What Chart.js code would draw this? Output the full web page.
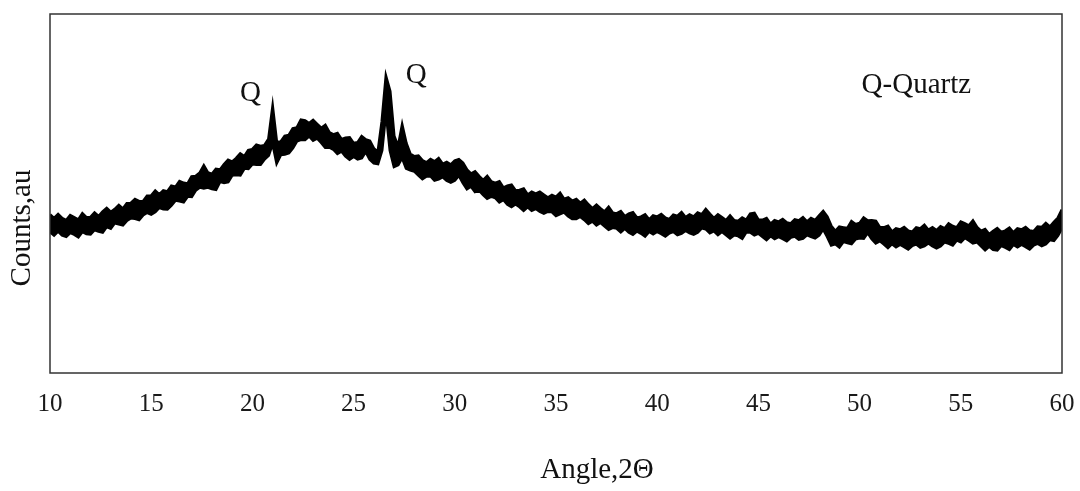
<!DOCTYPE html>
<html>
<head>
<meta charset="utf-8">
<script src="https://cdn.jsdelivr.net/npm/chart.js@4.4.1/dist/chart.umd.min.js"></script>
<style>
  html, body { margin: 0; padding: 0; background: #fff; }
  #wrap { width: 1080px; height: 491px; }
</style>
</head>
<body>
<div id="wrap"><canvas id="chart" width="1080" height="491"></canvas></div>
<script>
// scan grid: first angle and step between readings (2 theta, degrees)
const startAngle = 10
const stepAngle = 0.2

// the trace is a thick noisy band, so its top and bottom edge are read off
// the picture separately, one row per 2 degrees
const countsTop = [
  44.1, 43.1, 44.2, 43.1, 42.5, 43.9, 43.3, 42.7, 44.4, 43.3,   // 10
  43.4, 44.6, 43.6, 44.9, 45.9, 44.8, 45.6, 46.7, 45.7, 47.2,   // 12
  47.3, 48.4, 47.8, 47.8, 49.3, 49.4, 50.7, 49.7, 50.8, 50.5,   // 14
  52.1, 51.8, 53.4, 52.9, 52.7, 54.7, 54.8, 55.7, 57.7, 55.8,   // 16
  55.4, 56.8, 56.6, 58.1, 59.3, 58.8, 59.8, 61.1, 60.3, 62.0,   // 18
  62.3, 63.5, 63.2, 63.4, 65.2, 74.0, 64.3, 64.4, 66.0, 66.2,   // 20
  68.1, 68.3, 70.5, 70.3, 69.5, 70.4, 69.3, 68.2, 69.0, 67.0,   // 22
  66.4, 66.8, 65.1, 65.5, 65.6, 64.0, 64.2, 65.9, 65.0, 64.6,   // 24
  62.5, 61.5, 70.0, 82.5, 78.5, 66.0, 63.0, 69.0, 64.0, 61.0,   // 26
  60.3, 60.5, 59.2, 58.6, 59.5, 58.9, 59.8, 58.2, 58.7, 58.0,   // 28
  59.1, 59.5, 58.5, 56.6, 55.5, 56.1, 54.8, 53.7, 54.8, 53.3,   // 30
  52.9, 53.3, 51.6, 52.1, 52.4, 50.8, 50.9, 51.3, 49.6, 50.4,   // 32
  49.9, 50.4, 49.6, 48.8, 49.5, 49.0, 50.1, 48.4, 48.8, 47.9,   // 34
  48.4, 47.3, 48.2, 46.9, 45.8, 46.8, 45.8, 44.9, 46.2, 44.6,   // 36
  44.4, 45.0, 43.6, 44.3, 44.7, 43.2, 43.5, 44.1, 42.7, 43.8,   // 38
  43.5, 44.2, 43.2, 42.8, 44.0, 43.7, 44.7, 43.3, 44.1, 43.5,   // 40
  44.6, 44.1, 45.6, 44.3, 43.1, 44.1, 43.3, 42.5, 43.8, 42.5,   // 42
  42.3, 43.2, 42.6, 44.3, 44.5, 42.6, 42.6, 43.1, 41.5, 42.5,   // 44
  42.1, 42.8, 41.9, 41.6, 42.7, 42.4, 43.3, 42.1, 43.1, 42.5,   // 46
  43.8, 45.0, 43.5, 40.9, 39.5, 40.7, 40.5, 40.3, 42.2, 41.4,   // 48
  41.7, 43.2, 42.4, 42.5, 42.3, 40.5, 40.5, 40.9, 39.3, 40.2,   // 50
  39.9, 40.6, 39.6, 39.3, 40.5, 40.2, 41.2, 39.8, 40.5, 39.7,   // 52
  40.8, 40.2, 41.6, 40.9, 40.5, 42.1, 41.6, 41.0, 42.4, 40.6,   // 54
  39.5, 40.0, 38.6, 39.5, 40.3, 39.2, 39.6, 40.4, 39.1, 40.2,   // 56
  39.9, 40.6, 39.6, 39.4, 40.7, 40.6, 41.7, 40.7, 42.0, 43.2,   // 58
  45.5                                                          // 60
]
const countsBottom = [
  39.3, 38.4, 39.5, 38.4, 38.0, 39.1, 38.6, 37.9, 39.4, 38.8,   // 10
  38.7, 39.9, 39.5, 39.2, 40.8, 40.3, 41.8, 41.5, 41.2, 42.5,   // 12
  43.2, 43.0, 42.7, 44.0, 44.7, 44.2, 44.9, 46.1, 45.7, 45.6,   // 14
  46.7, 48.1, 47.9, 47.6, 49.2, 49.1, 50.9, 51.7, 51.5, 51.7,   // 16
  51.3, 51.1, 53.3, 53.0, 53.2, 55.1, 55.2, 55.1, 57.0, 56.9,   // 18
  58.2, 58.1, 58.1, 59.6, 60.6, 64.0, 58.5, 60.8, 60.9, 61.3,   // 20
  62.7, 64.6, 65.0, 65.0, 66.0, 64.8, 65.4, 64.2, 62.8, 62.9,   // 22
  62.3, 61.1, 61.8, 60.4, 59.5, 60.3, 59.6, 59.9, 61.7, 59.5,   // 24
  58.5, 58.3, 62.0, 73.0, 62.0, 57.5, 58.0, 60.0, 57.0, 56.5,   // 26
  56.2, 55.1, 54.1, 54.8, 54.9, 53.7, 54.0, 54.6, 53.6, 53.1,   // 28
  53.7, 55.1, 53.0, 51.3, 52.0, 50.5, 50.9, 49.7, 48.6, 49.2,   // 30
  48.8, 47.6, 48.3, 47.0, 46.3, 47.1, 46.3, 45.3, 46.3, 45.3,   // 32
  45.8, 45.0, 44.5, 45.0, 44.9, 43.8, 44.3, 44.8, 43.7, 43.0,   // 34
  43.0, 43.6, 42.7, 41.6, 42.3, 41.2, 41.9, 40.9, 40.0, 40.5,   // 36
  40.3, 39.3, 40.3, 39.2, 38.6, 39.5, 38.9, 38.1, 39.4, 38.7,   // 38
  39.4, 38.8, 38.1, 39.0, 39.4, 38.5, 38.9, 39.7, 39.0, 38.6,   // 40
  39.2, 40.4, 40.1, 39.0, 39.6, 38.5, 39.4, 38.5, 37.6, 38.4,   // 42
  38.2, 37.5, 39.3, 39.2, 38.4, 38.9, 38.0, 37.1, 38.2, 37.4,   // 44
  38.0, 37.4, 36.8, 37.8, 38.1, 37.2, 37.5, 38.5, 38.0, 37.6,   // 46
  38.4, 40.1, 38.0, 35.6, 36.0, 35.1, 36.6, 36.3, 36.0, 37.3,   // 48
  37.6, 37.5, 39.1, 37.4, 36.2, 36.8, 35.9, 34.9, 36.0, 35.1,   // 50
  35.8, 35.2, 34.5, 35.5, 35.9, 35.0, 35.4, 36.2, 35.4, 34.8,   // 52
  35.4, 36.5, 36.1, 35.6, 37.0, 36.5, 37.7, 37.0, 36.2, 36.5,   // 54
  35.4, 34.3, 35.3, 34.4, 34.2, 35.5, 35.0, 34.4, 35.8, 35.1,   // 56
  35.8, 35.2, 34.5, 35.6, 36.1, 35.4, 35.9, 37.1, 36.9, 38.3,   // 58
  40.5                                                          // 60
]

// x axis ticks
const xTicks = [10, 15, 20, 25, 30, 35, 40, 45, 50, 55, 60]

// peak labels: [text, angle, counts]
const peakLabels = [
  ['Q', 19.9, 78.0],
  ['Q', 28.1, 82.8]
]
const legendText = 'Q-Quartz'
const xTitle = 'Angle,2\u0398'
const yTitle = 'Counts,au'

// pairing each reading with its angle on the scan grid
let toPoints = function(arr) {
  return arr.map(function(c, i) {
    return { x: +(startAngle + i * stepAngle).toFixed(1), y: c }
  })
}

const serif = '"Liberation Serif", "Times New Roman", serif'

// plugin for the frame, axis titles and the peak notes
let extras = {
  id: 'extras',
  afterDraw: function(chart) {
    let ctx = chart.ctx
    let a = chart.chartArea
    let xs = chart.scales.x
    let ys = chart.scales.y
    ctx.save()
    // box round the plot
    ctx.strokeStyle = '#333'
    ctx.lineWidth = 1.5
    ctx.strokeRect(a.left, a.top, a.right - a.left, a.bottom - a.top)

    ctx.fillStyle = '#111'
    ctx.font = '29px ' + serif
    ctx.textAlign = 'center'
    ctx.textBaseline = 'middle'
    peakLabels.forEach(function(p) {
      ctx.fillText(p[0], xs.getPixelForValue(p[1]), ys.getPixelForValue(p[2]))
    })
    ctx.textAlign = 'left'
    ctx.fillText(legendText, xs.getPixelForValue(50.1), ys.getPixelForValue(80.2))

    // axis titles
    ctx.textAlign = 'center'
    ctx.fillText(xTitle, 597, 470)
    ctx.translate(22, 228)
    ctx.rotate(-Math.PI / 2)
    ctx.fillText(yTitle, 0, 0)
    ctx.restore()
  }
}

let elCanvas = document.getElementById('chart')
let ctx = elCanvas.getContext('2d')

let chart = new Chart(ctx, {
  type: 'line',
  data: {
    datasets: [
      {
        label: 'bottom',
        data: toPoints(countsBottom),
        borderColor: '#000',
        borderWidth: 3,
        pointRadius: 0,
        tension: 0,
        fill: false
      },
      {
        label: 'top',
        data: toPoints(countsTop),
        borderColor: '#000',
        backgroundColor: '#000',
        borderWidth: 3,
        pointRadius: 0,
        tension: 0,
        fill: '-1'
      }
    ]
  },
  options: {
    responsive: false,
    animation: false,
    layout: { padding: { top: 14, right: 18, left: 0, bottom: 0 } },
    plugins: {
      legend: { display: false },
      tooltip: { enabled: false }
    },
    scales: {
      x: {
        type: 'linear',
        min: 10,
        max: 60,
        afterBuildTicks: function(scale) {
          scale.ticks = xTicks.map(function(v) { return { value: v } })
        },
        afterFit: function(scale) {
          scale.height = 118
          scale.paddingLeft = 0
          scale.paddingRight = 0
        },
        grid: { display: false, drawTicks: false },
        border: { display: false },
        ticks: {
          padding: 16,
          maxRotation: 0,
          autoSkip: false,
          color: '#1a1a1a',
          font: { family: serif, size: 25 }
        }
      },
      y: {
        min: 0,
        max: 100,
        afterFit: function(scale) { scale.width = 50 },
        grid: { display: false, drawTicks: false },
        border: { display: false },
        ticks: { display: false }
      }
    }
  },
  plugins: [extras]
})
</script>
</body>
</html>
